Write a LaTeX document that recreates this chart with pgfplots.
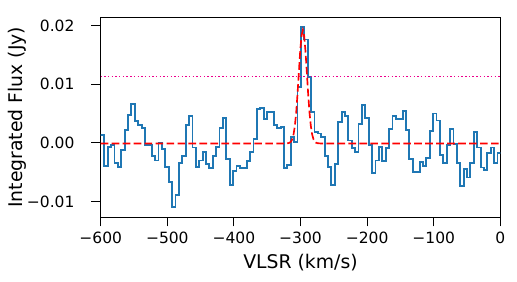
\documentclass[border=0pt]{standalone}
\usepackage{pgfplots}
\pgfplotsset{compat=1.18}
\usepackage{fontspec}
\setmainfont{DejaVu Sans}
\definecolor{mplblue}{HTML}{1F77B4}
\pgfplotstableread{
x y
-600.50 0.0013
-594.61 -0.0039
-589.52 -0.0007
-584.43 -0.0004
-579.34 -0.0034
-574.25 -0.0041
-569.16 -0.0012
-564.07 0.0022
-558.98 0.0047
-553.89 0.0066
-548.80 0.0037
-543.71 0.0031
-538.62 0.0026
-533.53 -0.0004
-528.44 -0.0003
-523.35 -0.0022
-518.26 -0.0030
-513.17 0.0000
-508.08 -0.0011
-502.99 -0.0041
-497.90 -0.0066
-492.81 -0.0110
-487.72 -0.0089
-482.63 -0.0034
-477.54 -0.0022
-472.45 0.0031
-467.36 0.0045
-462.27 -0.0008
-457.18 -0.0041
-452.09 -0.0030
-447.00 -0.0016
-441.91 -0.0036
-436.82 -0.0043
-431.73 -0.0022
-426.64 -0.0007
-421.55 0.0026
-416.46 0.0043
-411.37 -0.0027
-406.28 -0.0072
-401.19 -0.0048
-396.10 -0.0040
-391.01 -0.0043
-385.92 -0.0043
-380.83 -0.0031
-375.74 -0.0015
-370.65 0.0006
-365.56 0.0058
-360.47 0.0059
-355.38 0.0040
-350.29 0.0053
-345.20 0.0053
-340.11 0.0031
-335.02 0.0025
-329.93 0.0027
-324.84 -0.0043
-319.75 -0.0038
-314.66 0.0010
-309.57 0.0002
-304.48 0.0095
-299.39 0.0198
-294.30 0.0176
-289.21 0.0112
-284.12 0.0052
-279.03 0.0019
-273.94 0.0016
-268.85 0.0010
-263.76 -0.0022
-258.67 -0.0041
-253.58 -0.0072
-248.49 -0.0036
-243.40 0.0036
-238.31 0.0053
-233.22 0.0046
-228.13 0.0004
-223.04 -0.0009
-217.95 -0.0015
-212.86 0.0032
-207.77 0.0064
-202.68 0.0043
-197.59 -0.0004
-192.50 -0.0051
-187.41 -0.0030
-182.32 -0.0007
-177.23 -0.0031
-172.14 -0.0009
-167.05 0.0024
-161.96 0.0045
-156.87 0.0040
-151.78 0.0041
-146.69 0.0054
-141.60 0.0022
-136.51 -0.0027
-131.42 -0.0049
-126.33 -0.0049
-121.24 -0.0033
-116.15 -0.0039
-111.06 -0.0026
-105.97 0.0020
-100.88 0.0050
-95.79 0.0038
-90.70 -0.0021
-85.61 -0.0035
-80.52 -0.0004
-75.43 0.0024
-70.34 -0.0002
-65.25 -0.0035
-60.16 -0.0073
-55.07 -0.0044
-49.98 -0.0059
-44.89 -0.0034
-39.80 0.0019
-34.71 -0.0008
-29.62 -0.0042
-24.53 -0.0046
-19.44 -0.0018
-14.35 -0.0008
-9.26 -0.0035
-4.17 -0.0018
0.92 -0.0018
}\spectrum
\pgfplotstableread{
x y
-600.0 -0.0001
-322.5 -0.0001
-318.5 -0.00006
-316.5 0.00001
-314.5 0.00019
-312.5 0.00059
-310.5 0.00141
-308.5 0.00287
-306.5 0.00516
-304.5 0.00830
-302.5 0.01198
-300.5 0.01557
-298.5 0.01822
-296.5 0.01920
-294.5 0.01822
-292.5 0.01557
-290.5 0.01198
-288.5 0.00830
-286.5 0.00516
-284.5 0.00287
-282.5 0.00141
-280.5 0.00059
-278.5 0.00019
-276.5 0.00001
-274.5 -0.00006
-270.5 -0.0001
0.0 -0.0001
}\gaussfit
\begin{document}
\begin{tikzpicture}
\begin{axis}[
  scale only axis, width=287.7bp, height=143.8bp,
  xmin=-600, xmax=0, ymin=-0.01265, ymax=0.02137,
  axis line style={line width=0.8bp, black},
  tick style={line width=0.8bp, black},
  tick align=outside, major tick length=6.7bp,
  xtick pos=left, ytick pos=left,
  xtick={-600,-500,-400,-300,-200,-100,0},
  xticklabels={−600,−500,−400,−300,−200,−100,0},
  ytick={-0.01,0,0.01,0.02},
  yticklabels={−0.01,0.00,0.01,0.02},
  scaled y ticks=false,
  ticklabel style={font=\fontsize{11.2}{13}\selectfont},
  xticklabel style={anchor=base, inner sep=0pt, yshift=-12.2bp},
  yticklabel style={anchor=east, inner sep=0pt, xshift=-12bp},
  xlabel={VLSR (km/s)},
  ylabel={Integrated Flux (Jy)},
  label style={font=\fontsize{13.6}{16}\selectfont},
  xlabel style={at={(axis description cs:0.5,-0.257)}, anchor=base, inner sep=0pt},
  ylabel style={at={(axis description cs:-0.2082,0.5)}, anchor=center, inner sep=0pt},
  clip=true,
]
\addplot[const plot, mplblue, line width=1.35bp] table {\spectrum};
\addplot[red, line width=1.2bp, dash pattern=on 5.5bp off 2.4bp] table {\gaussfit};
\addplot[magenta, line width=1bp, dash pattern=on 1bp off 1.65bp] coordinates {(-600,0.0113) (0,0.0113)};
\coordinate (ll) at (rel axis cs:0,0);
\coordinate (ur) at (rel axis cs:1,1);
\end{axis}
\pgfresetboundingbox
\path[use as bounding box] ([shift={(-72.5bp,-46.1bp)}]ll) rectangle ([shift={(12bp,12.5bp)}]ur);
\end{tikzpicture}
\end{document}
